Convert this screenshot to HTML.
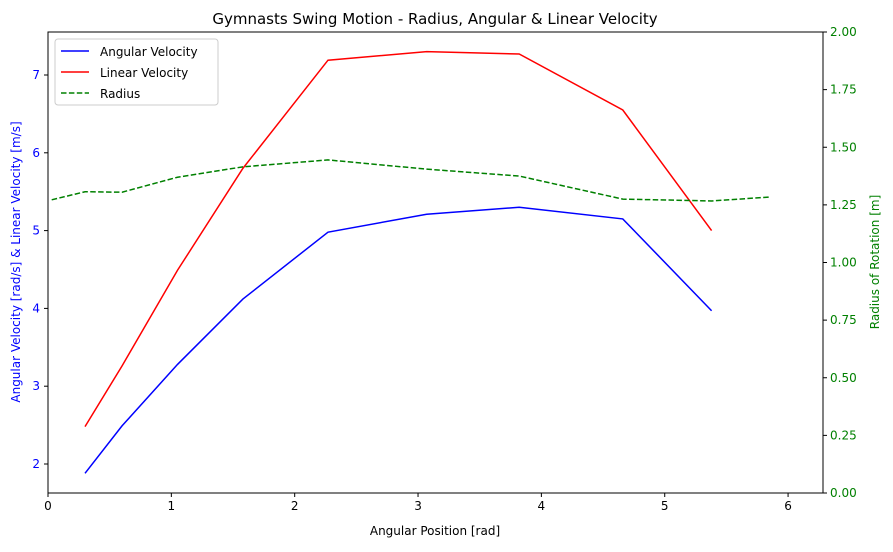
<!DOCTYPE html>
<html><head><meta charset="utf-8"><style>
body{margin:0;background:#fff;}
svg text{font-family:"DejaVu Sans","Liberation Sans",sans-serif;}
</style></head><body>
<svg id="chart" width="893" height="547" xmlns="http://www.w3.org/2000/svg">
<rect width="893" height="547" fill="#fff"/>
<text x="435" y="24" text-anchor="middle" font-size="15">Gymnasts Swing Motion - Radius, Angular &amp; Linear Velocity</text>
<g id="marks"></g>
<rect x="48" y="32" width="775" height="461" fill="none" stroke="#000" stroke-width="1"/>
<g id="axes"></g>
<text x="435" y="535" text-anchor="middle" font-size="12">Angular Position [rad]</text>
<text transform="translate(20,262) rotate(-90)" text-anchor="middle" font-size="12" fill="blue">Angular Velocity [rad/s] &amp; Linear Velocity [m/s]</text>
<text transform="translate(879,262) rotate(-90)" text-anchor="middle" font-size="12" fill="green">Radius of Rotation [m]</text>
<g>
<rect x="55" y="39" width="163" height="66" rx="3" fill="#fff" fill-opacity="0.8" stroke="#ccc"/>
<g><line x1="61" y1="51" x2="89" y2="51" stroke="blue" stroke-width="1.5"/><text x="100" y="56" font-size="12">Angular Velocity</text></g>
<g><line x1="61" y1="72" x2="89" y2="72" stroke="red" stroke-width="1.5"/><text x="100" y="77" font-size="12">Linear Velocity</text></g>
<g><line x1="61" y1="93" x2="89" y2="93" stroke="green" stroke-width="1.5" stroke-dasharray="5.5,2.4"/><text x="100" y="98" font-size="12">Radius</text></g>
</g>
</svg>
<script>
const velX = [0.30, 0.60, 1.05, 1.58, 2.27, 3.07, 3.82, 4.66, 5.38];
const angularVel = [1.88, 2.49, 3.28, 4.12, 4.98, 5.21, 5.30, 5.15, 3.97];
const linearVel = [2.48, 3.26, 4.49, 5.80, 7.19, 7.30, 7.27, 6.55, 5.00];
const radiusX = [0.03, 0.30, 0.60, 1.05, 1.58, 2.27, 3.07, 3.82, 4.66, 5.38, 5.85];
const radiusVals = [1.272, 1.307, 1.305, 1.37, 1.415, 1.445, 1.405, 1.375, 1.275, 1.267, 1.284];
const xTicks = [0, 1, 2, 3, 4, 5, 6];
const leftTicks = [2, 3, 4, 5, 6, 7];
const rightTicks = ["0.00","0.25","0.50","0.75","1.00","1.25","1.50","1.75","2.00"];

const L=48,R=823,T=32,B=493;
const xs=v=>L+(v-0)/(6.2832)*(R-L);
const yl=v=>464-(v-2)*77.8;
const yr=v=>B-(v/2)*(B-T);
const NS="http://www.w3.org/2000/svg";
const marks=document.getElementById('marks'), axes=document.getElementById('axes');
function mk(tag,attrs,parent){const e=document.createElementNS(NS,tag);for(const k in attrs)e.setAttribute(k,attrs[k]);parent.appendChild(e);return e;}
function line(xa,ya,sx,sy,color,name,dash){
  const p=mk('polyline',{points:xa.map((x,i)=>sx(x)+','+sy(ya[i])).join(' '),fill:'none',stroke:color,'stroke-width':1.5},marks);
  if(dash)p.setAttribute('stroke-dasharray',dash);
  
  
}
line(velX,angularVel,xs,yl,'blue','angular-velocity-line');
line(velX,linearVel,xs,yl,'red','linear-velocity-line');
line(radiusX,radiusVals,xs,yr,'green','radius-line','5.5,2.4');
xTicks.forEach(t=>{const x=xs(t);mk('line',{x1:x,y1:B,x2:x,y2:B+4,stroke:'#000'},axes);
  const tx=mk('text',{x:x,y:B+17,'text-anchor':'middle','font-size':12},axes);tx.textContent=t;
  
  });
leftTicks.forEach(t=>{const y=yl(t);mk('line',{x1:L,y1:y,x2:L-4,y2:y,stroke:'#000'},axes);
  const tx=mk('text',{x:L-8,y:y+4,'text-anchor':'end','font-size':12,fill:'blue'},axes);tx.textContent=t;
  
  });
rightTicks.forEach(t=>{const y=yr(parseFloat(t));mk('line',{x1:R,y1:y,x2:R+4,y2:y,stroke:'#000'},axes);
  const tx=mk('text',{x:R+7,y:y+4,'font-size':12,fill:'green'},axes);tx.textContent=t;
  
  });
</script>
</body></html>
